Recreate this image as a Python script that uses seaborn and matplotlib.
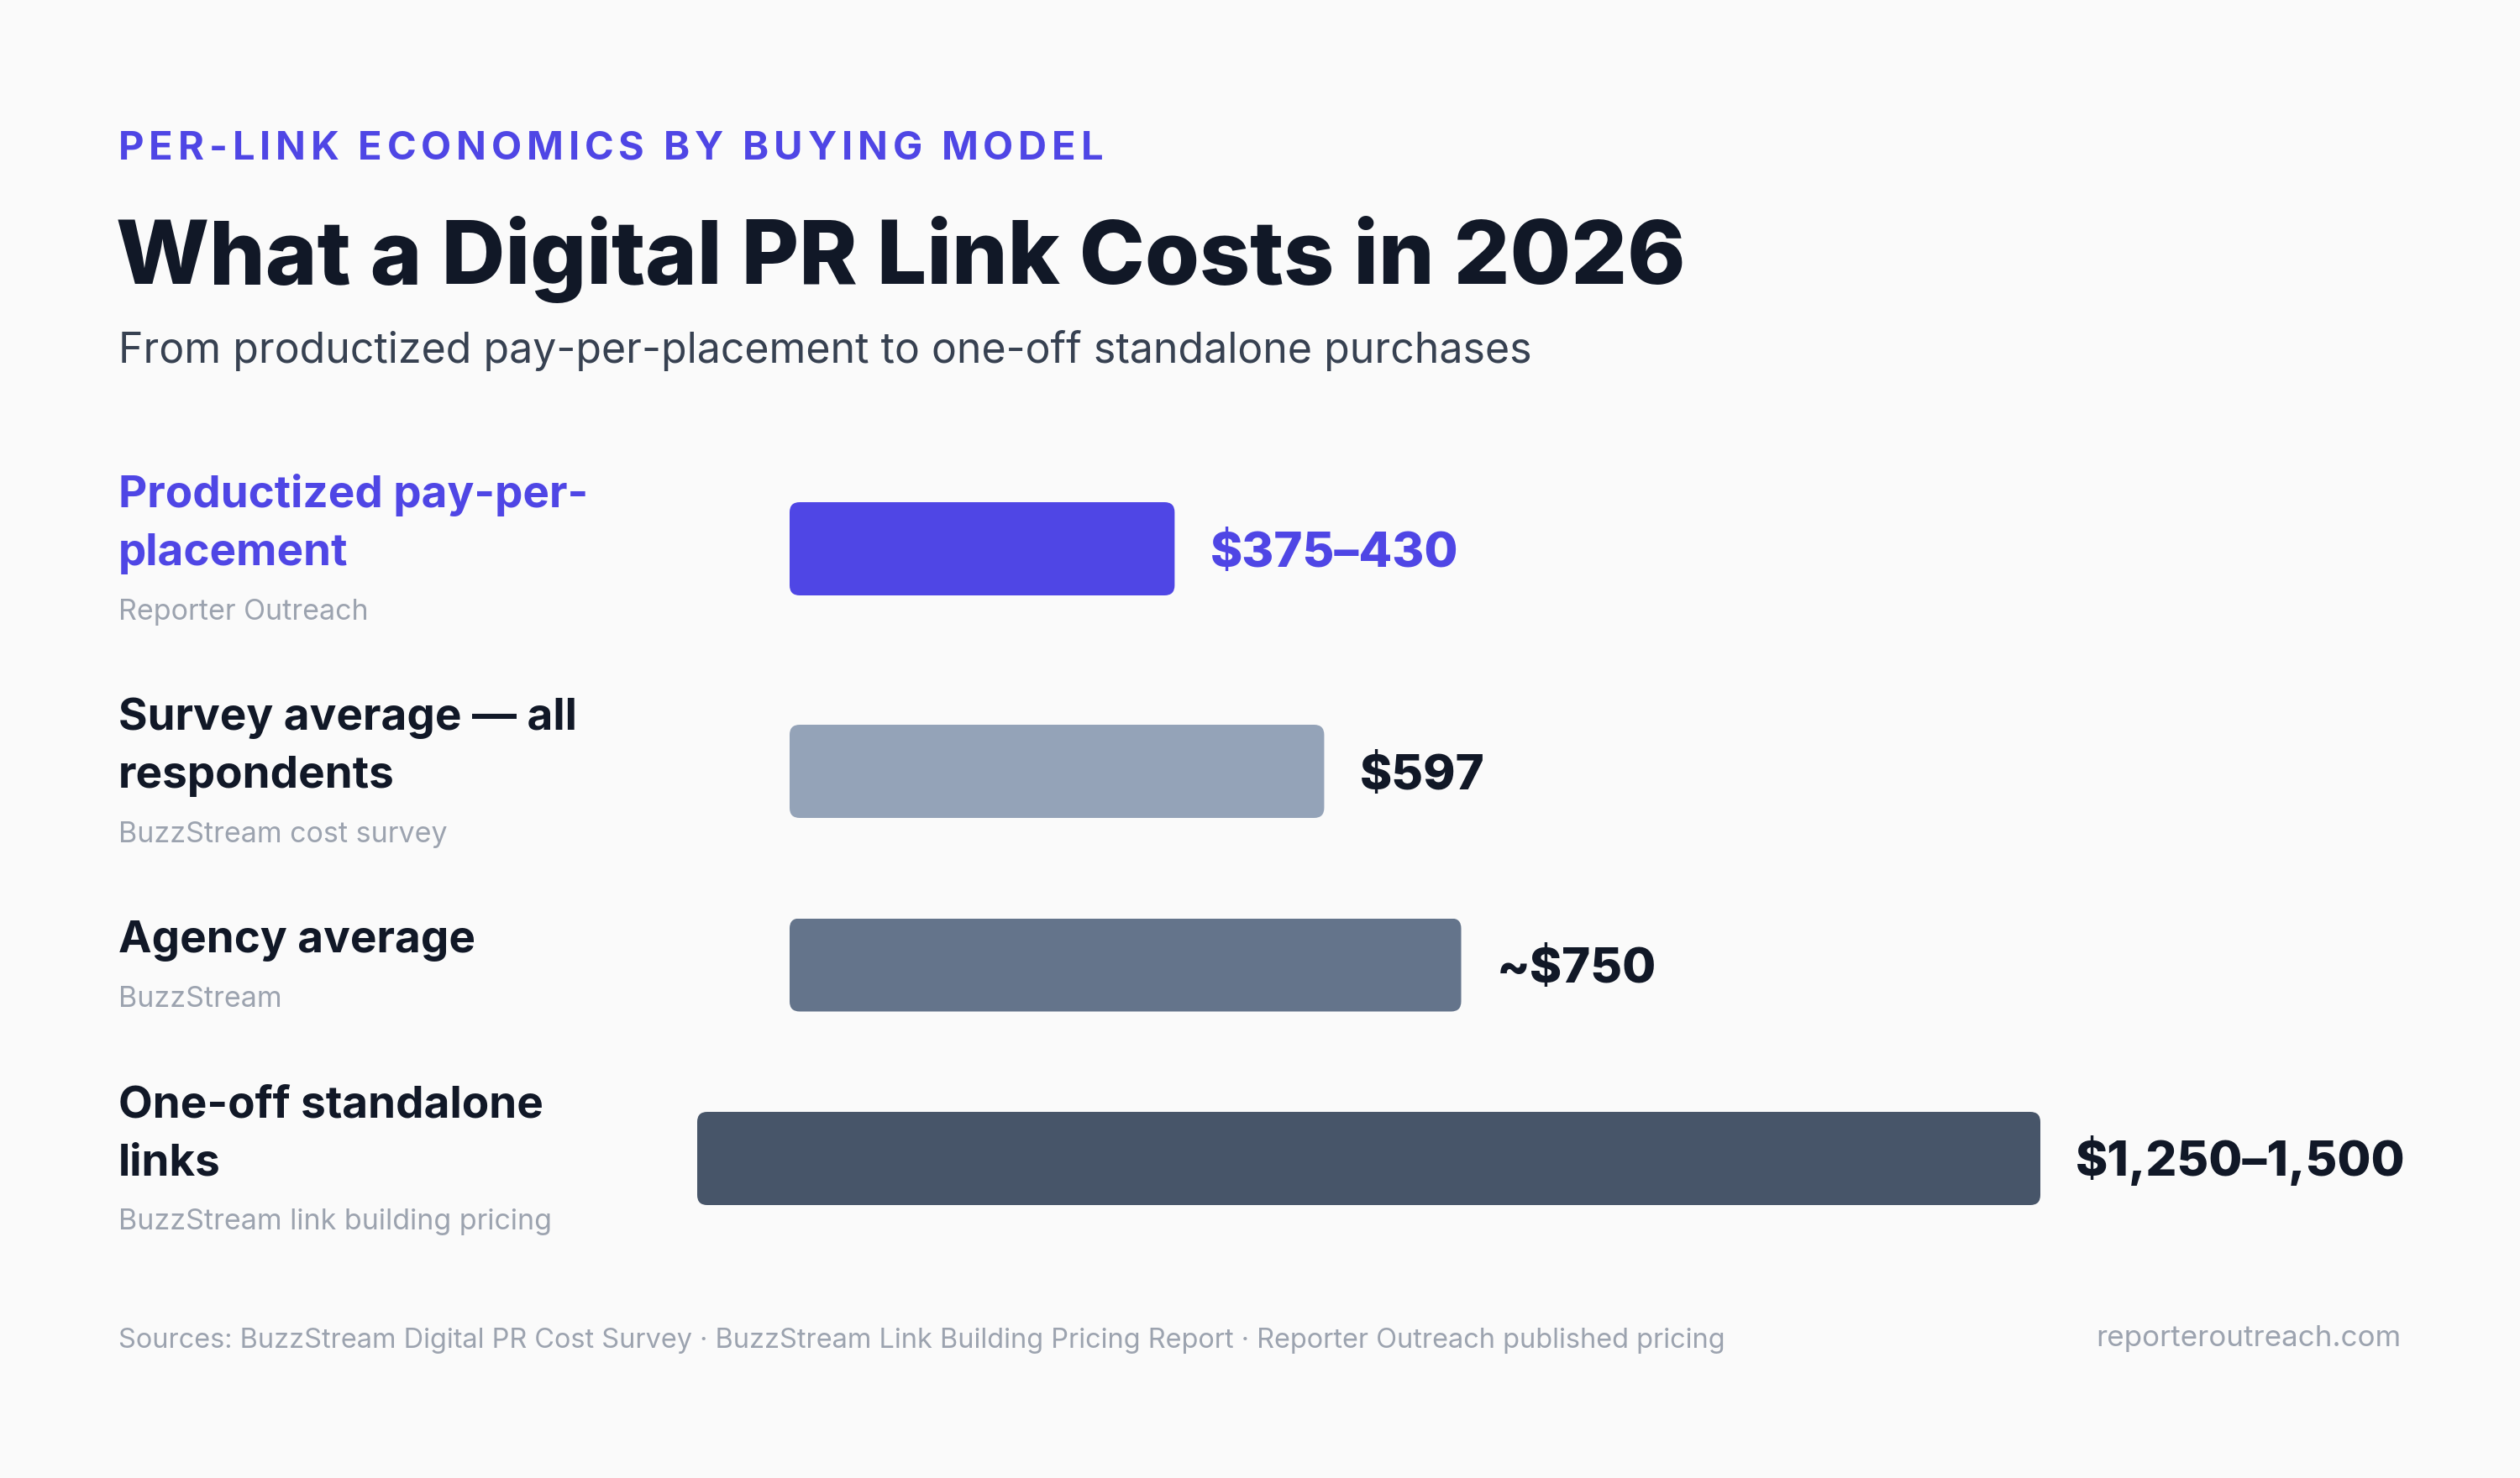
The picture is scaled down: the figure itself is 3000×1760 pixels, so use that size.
import textwrap
import matplotlib.pyplot as plt
import seaborn as sns
from matplotlib.patches import FancyBboxPatch

sns.set_theme(style='white')
plt.rcParams['font.family'] = ['Inter', 'DejaVu Sans']

# ---- data ----
categories = ['Productized pay-per-placement',
              'Survey average — all respondents',
              'Agency average',
              'One-off standalone links']
sources = ['Reporter Outreach',
           'BuzzStream cost survey',
           'BuzzStream',
           'BuzzStream link building pricing']
price_low = [375, 597, 750, 1250]
price_high = [430, 597, 750, 1500]
price_labels = ['$375–430', '$597', '~$750', '$1,250–1,500']

kicker = 'PER-LINK ECONOMICS BY BUYING MODEL'
title = 'What a Digital PR Link Costs in 2026'
subtitle = 'From productized pay-per-placement to one-off standalone purchases'
footer = ('Sources: BuzzStream Digital PR Cost Survey · BuzzStream Link Building '
          'Pricing Report · Reporter Outreach published pricing')
site = 'reporteroutreach.com'

# ---- style ----
BG = '#FAFAFA'
PURPLE = '#4F46E5'
DARK = '#111827'
GREY = '#9CA3AF'
bar_colors = [PURPLE, '#94A3B8', '#64748B', '#475569']
text_colors = [PURPLE, DARK, DARK, DARK]
bar_left = [940, 940, 940, 830]   # last row has a narrower label column

W, H = 3000, 1760
PX_PER_DOLLAR = 1.066
BAR_H = 111


def fx(x):
    return x / W


def fy(y):
    return 1 - y / H


def pt(px):
    return px * 72 / 100


fig = plt.figure(figsize=(30, 17.6), dpi=100, facecolor=BG)
renderer = fig.canvas.get_renderer()


def tracked_text(x, y, s, width, **kw):
    # draw s one char at a time so it spans `width` px (css letter-spacing)
    probe = fig.text(0, 0, 'I', **kw)
    w_i = probe.get_window_extent(renderer).width
    probe.set_text(s)
    natural = probe.get_window_extent(renderer).width
    probe.remove()
    track = (width - natural) / (len(s) - 1)
    for i, ch in enumerate(s):
        p = fig.text(0, 0, s[:i] + 'I', **kw)
        off = p.get_window_extent(renderer).width - w_i if i else 0
        p.remove()
        fig.text(fx(x + off + i * track), fy(y), ch, va='baseline', **kw)


# header
tracked_text(141, 190, kicker, 1172, fontsize=pt(47), fontweight='bold', color=PURPLE)
fig.text(fx(138), fy(338), title, fontsize=pt(105), fontweight='heavy',
         color=DARK, va='baseline')
fig.text(fx(141), fy(432), subtitle, fontsize=pt(50), color='#374151', va='baseline')

# rows
y = 604
for i in range(len(categories)):
    lines = textwrap.wrap(categories[i], 20)
    for j, line in enumerate(lines):
        fig.text(fx(141), fy(y + 69 * j), line, fontsize=pt(53), fontweight='bold',
                 color=text_colors[i], va='baseline')
    src_y = y + 69 * (len(lines) - 1) + 65
    fig.text(fx(141), fy(src_y), sources[i], fontsize=pt(34), color=GREY, va='baseline')
    center = (y + src_y) / 2 - 17.5

    ax = fig.add_axes([fx(bar_left[i]), fy(center + BAR_H / 2), fx(2000), BAR_H / H])
    sns.barplot(x=[price_high[i]], y=[categories[i]], orient='h', color=bar_colors[i],
                saturation=1, width=1, ax=ax)
    ax.set_xlim(0, 2000 / PX_PER_DOLLAR)
    ax.set_ylim(0.5, -0.5)
    ax.axis('off')

    # swap the square bar for a rounded one
    for p in list(ax.patches):
        x0, y0, w, h = p.get_x(), p.get_y(), p.get_width(), p.get_height()
        p.remove()
        ax.add_patch(FancyBboxPatch((x0, y0), w, h,
                                    boxstyle=f'round,pad=0,rounding_size={12 / PX_PER_DOLLAR}',
                                    mutation_aspect=PX_PER_DOLLAR / BAR_H,
                                    fc=bar_colors[i], ec='none'))

    ax.annotate(price_labels[i], xy=(price_high[i], 0), xytext=(pt(42), -pt(21)),
                textcoords='offset points', ha='left', va='baseline',
                fontsize=pt(58), fontweight='heavy', color=text_colors[i],
                annotation_clip=False)
    y = src_y + 131

# footer
fig.text(fx(141), fy(1605), footer, fontsize=pt(32.5), color=GREY, va='baseline')
fig.text(fx(2858), fy(1603), site, fontsize=pt(35), color=GREY, va='baseline', ha='right')

fig.savefig('out.png', dpi=100, facecolor=BG)
